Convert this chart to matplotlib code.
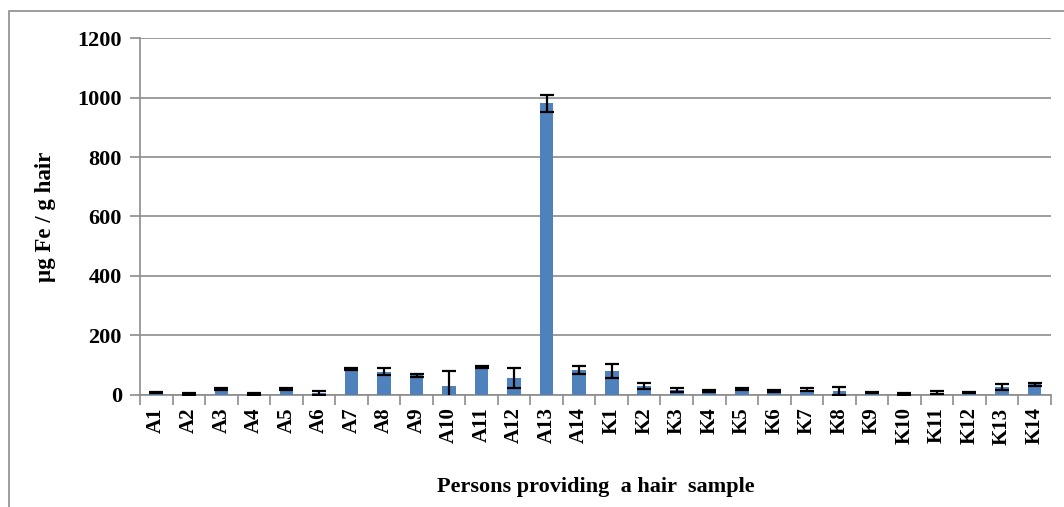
import matplotlib
matplotlib.use("Agg")
import matplotlib.pyplot as plt
from matplotlib.patches import Rectangle
import numpy as np

samples = ["A1", "A2", "A3", "A4", "A5", "A6", "A7", "A8", "A9", "A10", "A11", "A12", "A13", "A14",
           "K1", "K2", "K3", "K4", "K5", "K6", "K7", "K8", "K9", "K10", "K11", "K12", "K13", "K14"]
iron_mean = [8, 3, 20, 3, 20, 6, 88, 78, 66, 30, 95, 57, 980, 84,
             80, 30, 18, 14, 20, 12, 17, 14, 7, 3, 8, 8, 27, 36]
iron_err = [3, 2, 5, 2, 4, 6, 4, 12, 4, 50, 3, 35, 28, 12,
            24, 11, 7, 3, 5, 3, 5, 13, 2, 2, 6, 3, 11, 5]

plt.rcParams["font.family"] = ["Liberation Serif", "DejaVu Serif"]
plt.rcParams["font.weight"] = "bold"

fig = plt.figure(figsize=(10.64, 5.07), dpi=100)
ax = fig.add_axes([0.1316, 0.221, 0.856, 0.704])

grey = "#8c8c8c"
x = np.arange(len(samples))
ax.bar(x, iron_mean, width=0.42, color="#4f81bd", zorder=3)
ax.errorbar(x, iron_mean, yerr=iron_err, fmt="none", ecolor="black",
            elinewidth=1.6, capsize=5, capthick=1.6, zorder=4)

ax.set_ylim(0, 1200)
ax.set_yticks(np.arange(0, 1201, 200))
ax.set_xlim(-0.5, len(samples) - 0.5)
ax.yaxis.grid(True, color=grey, linewidth=1.2, zorder=0)
ax.set_axisbelow(True)

ax.set_xticks(x)
ax.set_xticklabels(samples, rotation=90, fontsize=15, fontweight="bold")
ax.set_xticks(np.arange(-0.5, len(samples), 1), minor=True)
ax.tick_params(axis="x", which="major", length=0, pad=9)
ax.tick_params(axis="x", which="minor", length=7, color=grey, width=1.2)
ax.tick_params(axis="y", length=7, color=grey, width=1.2, labelsize=16, pad=6)
for lbl in ax.get_yticklabels():
    lbl.set_fontweight("bold")

for side in ("top", "right"):
    ax.spines[side].set_visible(False)
for side in ("left", "bottom"):
    ax.spines[side].set_color(grey)
    ax.spines[side].set_linewidth(1.2)

ax.set_ylabel("µg Fe / g hair", fontsize=16.5, fontweight="bold", va="center")
ax.yaxis.set_label_coords(-0.104, 0.5)
ax.set_xlabel("Persons providing  a hair  sample", fontsize=16, fontweight="bold", va="center")
ax.xaxis.set_label_coords(0.5, -0.258)

fig.patches.append(Rectangle((9 / 1064, -0.01), 1.2, 1 - 11 / 507 + 0.01,
                             transform=fig.transFigure, fill=False,
                             edgecolor=grey, linewidth=1.2))

fig.savefig("out.png", dpi=100)
